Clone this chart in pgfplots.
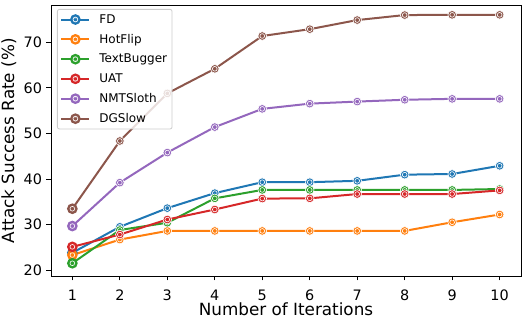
\documentclass[border=0pt]{standalone}
\usepackage{fontspec}
\setmainfont{DejaVu Sans}
\usepackage{pgfplots}
\pgfplotsset{compat=1.18}
\definecolor{c0}{HTML}{1F77B4}
\definecolor{c1}{HTML}{FF7F0E}
\definecolor{c2}{HTML}{2CA02C}
\definecolor{c3}{HTML}{D62728}
\definecolor{c4}{HTML}{9467BD}
\definecolor{c5}{HTML}{8C564B}
\pgfdeclareplotmark{ringdot}{%
  \pgfpathcircle{\pgfpointorigin}{\pgfplotmarksize}%
  \pgfusepathqfillstroke
  \pgfsetstrokecolor{white}\pgfsetlinewidth{0.6pt}%
  \pgfpathcircle{\pgfpointorigin}{0.55\pgfplotmarksize}%
  \pgfusepathqstroke
}
\begin{document}
\begin{tikzpicture}
\path[use as bounding box] (-51pt,-42pt) rectangle (473pt,276pt);
\begin{axis}[
  at={(0,0)}, anchor=south west,
  scale only axis,
  width=470pt, height=270.5pt,
  xmin=0.55, xmax=10.45,
  ymin=18.7, ymax=78.1,
  xtick={1,...,10},
  ytick={20,30,40,50,60,70},
  tick align=outside,
  major tick length=4.5pt,
  tick style={black, line width=0.9pt},
  xtick pos=bottom, ytick pos=left,
  axis line style={line width=0.9pt},
  /pgf/number format/assume math mode=true,
  ticklabel style={font=\fontsize{14.4}{17}\selectfont},
  xticklabel style={anchor=base, yshift=-20pt},
  yticklabel style={xshift=-1pt},
  xlabel={Number of Iterations},
  ylabel={Attack Success Rate (\%)},
  label style={font=\fontsize{16.8}{20}\selectfont},
  xlabel style={at={(axis description cs:0.5,0)}, anchor=base, yshift=-39.5pt},
  ylabel style={at={(axis description cs:-0.0787,0.5)}, anchor=base},
  every axis plot/.append style={line width=2pt, mark=ringdot, mark size=4.3pt},
  legend style={at={(6pt,267pt)}, anchor=north west, font=\fontsize{12}{14}\selectfont,
    draw=black!20, fill=white, fill opacity=0.8, text opacity=1, rounded corners=2pt,
    inner sep=3pt, row sep=5.4pt, column sep=7pt, line width=0.8pt},
  legend cell align=left,
  legend image code/.code={%
    \draw[mark repeat=2, mark phase=2] plot coordinates {(0pt,0pt) (14pt,0pt) (28pt,0pt)};},
]
\addplot[c0, mark options={fill=c0}] coordinates {(1,23.8) (2,29.5) (3,33.6) (4,36.9) (5,39.3) (6,39.3) (7,39.6) (8,40.95) (9,41.1) (10,42.9)};
\addlegendentry{FD}
\addplot[c1, mark options={fill=c1}] coordinates {(1,23.3) (2,26.7) (3,28.6) (4,28.6) (5,28.6) (6,28.6) (7,28.6) (8,28.6) (9,30.5) (10,32.2)};
\addlegendentry{HotFlip}
\addplot[c2, mark options={fill=c2}] coordinates {(1,21.5) (2,28.8) (3,30.4) (4,35.75) (5,37.6) (6,37.6) (7,37.6) (8,37.6) (9,37.6) (10,37.8)};
\addlegendentry{TextBugger}
\addplot[c3, mark options={fill=c3}] coordinates {(1,25.1) (2,27.8) (3,31.1) (4,33.3) (5,35.7) (6,35.75) (7,36.7) (8,36.7) (9,36.7) (10,37.5)};
\addlegendentry{UAT}
\addplot[c4, mark options={fill=c4}] coordinates {(1,29.67) (2,39.2) (3,45.8) (4,51.4) (5,55.4) (6,56.55) (7,57.0) (8,57.4) (9,57.6) (10,57.6)};
\addlegendentry{NMTSloth}
\addplot[c5, mark options={fill=c5}] coordinates {(1,33.47) (2,48.35) (3,58.8) (4,64.2) (5,71.4) (6,72.9) (7,74.9) (8,76.0) (9,76.05) (10,76.05)};
\addlegendentry{DGSlow}
\end{axis}
\end{tikzpicture}
\end{document}
